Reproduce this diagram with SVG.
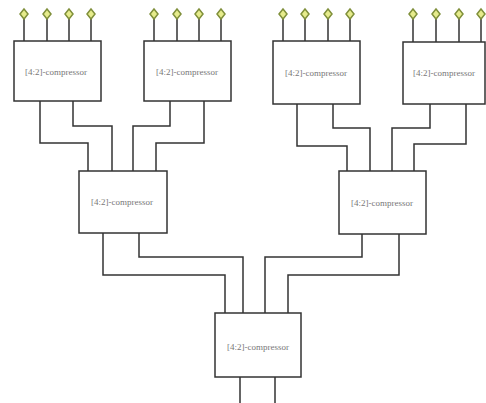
<svg xmlns="http://www.w3.org/2000/svg" width="486" height="403" viewBox="0 0 486 403">
<defs>
<style>
.box{fill:#fff;stroke:#333;stroke-width:1.5}
.w{fill:none;stroke:#333;stroke-width:1.5}
.d{fill:#e6ec8c;stroke:#7f8f3a;stroke-width:1.5}
.t{font-family:"Liberation Serif",serif;font-size:9px;fill:#777;text-anchor:middle;dominant-baseline:central}
</style>
<g id="pin"><path class="d" d="M0,-5 L4,0 L0,5 L-4,0 Z"/></g>
</defs>
<rect width="486" height="403" fill="#fff"/>
<g id="connectors">
<path class="w" d="M24,19V41M47,19V41M69,19V41M91,19V41"/>
<path class="w" d="M154,19V41M177,19V41M199,19V41M221,19V41"/>
<path class="w" d="M283,19V41M305,19V41M328,19V41M350,19V41"/>
<path class="w" d="M413,19V42M436,19V42M459,19V42M481,19V42"/>
<path class="w" d="M40,101V143H88V171"/>
<path class="w" d="M73,101V126H112V171"/>
<path class="w" d="M170,101V126H133V171"/>
<path class="w" d="M204,101V143H156V171"/>
<path class="w" d="M297,104V146H347V171"/>
<path class="w" d="M333,104V128H370V171"/>
<path class="w" d="M430,104V128H392V171"/>
<path class="w" d="M466,104V144H414V171"/>
<path class="w" d="M103,233V275H225V313"/>
<path class="w" d="M139,233V257H243V313"/>
<path class="w" d="M362,234V257H265V313"/>
<path class="w" d="M399,234V275H288V313"/>
<path class="w" d="M240,377V403M275,377V403"/>
<use href="#pin" x="24" y="14"/><use href="#pin" x="47" y="14"/><use href="#pin" x="69" y="14"/><use href="#pin" x="91" y="14"/>
<use href="#pin" x="154" y="14"/><use href="#pin" x="177" y="14"/><use href="#pin" x="199" y="14"/><use href="#pin" x="221" y="14"/>
<use href="#pin" x="283" y="14"/><use href="#pin" x="305" y="14"/><use href="#pin" x="328" y="14"/><use href="#pin" x="350" y="14"/>
<use href="#pin" x="413" y="14"/><use href="#pin" x="436" y="14"/><use href="#pin" x="459" y="14"/><use href="#pin" x="481" y="14"/>
</g>
<g id="c1"><rect class="box" x="14" y="41" width="87" height="60"/><text class="t" x="56" y="72">[4:2]-compressor</text></g>
<g id="c2"><rect class="box" x="144" y="41" width="87" height="60"/><text class="t" x="187" y="72">[4:2]-compressor</text></g>
<g id="c3"><rect class="box" x="273" y="41" width="87" height="63"/><text class="t" x="316" y="73">[4:2]-compressor</text></g>
<g id="c4"><rect class="box" x="403" y="42" width="82" height="62"/><text class="t" x="444" y="73">[4:2]-compressor</text></g>
<g id="c5"><rect class="box" x="79" y="171" width="88" height="62"/><text class="t" x="122" y="202">[4:2]-compressor</text></g>
<g id="c6"><rect class="box" x="339" y="171" width="87" height="63"/><text class="t" x="382" y="203">[4:2]-compressor</text></g>
<g id="c7"><rect class="box" x="215" y="313" width="86" height="64"/><text class="t" x="258" y="347">[4:2]-compressor</text></g>
</svg>
